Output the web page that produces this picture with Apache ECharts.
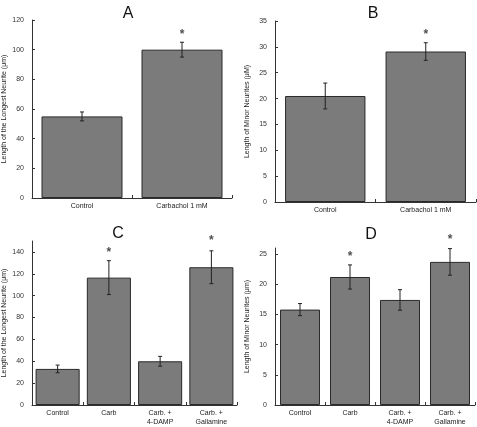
<!DOCTYPE html>
<html><head><meta charset="utf-8">
<script src="https://cdn.jsdelivr.net/npm/echarts@6/dist/echarts.min.js"></script>
<style>html,body{margin:0;padding:0;background:#fff}#c{width:477px;height:427px}</style>
</head><body><div id="c"></div>
<script>
// ---- data ----
const catsAB = ['Control', 'Carbachol 1 mM'];
const catsCD = ['Control', 'Carb', 'Carb. +\n4-DAMP', 'Carb. +\nGallamine'];
const valA = [55, 100];
const errA = [3, 5];
const starA = [null, 112];
const valB = [20.5, 29.1];
const errB = [2.5, 1.7];
const starB = [null, 33];
const valC = [33, 116.5, 40, 126];
const errC = [3.5, 15.5, 4.5, 15];
const starC = [null, 142.5, null, 153];
const valD = [15.8, 21.2, 17.4, 23.7];
const errD = [1, 2, 1.7, 2.2];
const starD = [null, 25, null, 27.9];
const ticksA = [0, 20, 40, 60, 80, 100, 120];
const ticksB = [0, 5, 10, 15, 20, 25, 30, 35];
const ticksC = [0, 20, 40, 60, 80, 100, 120, 140];
const ticksD = [0, 5, 10, 15, 20, 25];
const titles = ['A', 'B', 'C', 'D'];
const yNames = ['Length of the Longest Neurite (μm)', 'Length of Minor Neurites (μM)',
                'Length of the Longest Neurite (μm)', 'Length of Minor Neurites (μm)'];

const FONT = 'Liberation Sans';
const panels = [
  {cats: catsAB, val: valA, err: errA, star: starA, ticks: ticksA, max: 120, grid: {left: 30, top: 20, width: 202, height: 178}, bw: '81%', title: [123, 1]},
  {cats: catsAB, val: valB, err: errB, star: starB, ticks: ticksB, max: 35, grid: {left: 275, top: 21, width: 201, height: 181}, bw: '80%', title: [368, 1]},
  {cats: catsCD, val: valC, err: errC, star: starC, ticks: ticksC, max: 150, grid: {left: 32, top: 241, width: 205, height: 170}, bw: '86%', title: [113, 221]},
  {cats: catsCD, val: valD, err: errD, star: starD, ticks: ticksD, max: 26, grid: {left: 275, top: 248, width: 200, height: 163}, bw: '80%', title: [366, 222]}
];

const option = {animation: false, backgroundColor: '#fff', title: [], grid: [], xAxis: [], yAxis: [], series: []};
panels.forEach((p, i) => {
  option.title.push({text: titles[i], left: p.title[0], top: p.title[1], textAlign: 'center',
    textStyle: {fontFamily: FONT, fontSize: 16, fontWeight: 'normal', color: '#111'}});
  option.grid.push(Object.assign({containLabel: false}, p.grid));
  option.xAxis.push({type: 'category', gridIndex: i, data: p.cats,
    axisLine: {lineStyle: {color: '#333', width: 1}},
    axisTick: {show: true, inside: true, length: 3, lineStyle: {color: '#333'}},
    axisLabel: {fontFamily: FONT, fontSize: 7, color: '#222', margin: 4, lineHeight: 9, interval: 0}});
  option.yAxis.push({type: 'value', gridIndex: i, min: 0, max: p.max,
    name: yNames[i], nameLocation: 'middle', nameGap: 24, nameRotate: 90,
    nameTextStyle: {fontFamily: FONT, fontSize: 7, color: '#222'},
    splitLine: {show: false},
    axisLine: {show: true, lineStyle: {color: '#333', width: 1}},
    axisTick: {show: true, inside: true, length: 3, customValues: p.ticks, lineStyle: {color: '#333'}},
    axisLabel: {fontFamily: FONT, fontSize: 7, color: '#333', margin: 8, customValues: p.ticks}});
  option.series.push({type: 'bar', xAxisIndex: i, yAxisIndex: i, data: p.val, barWidth: p.bw,
    itemStyle: {color: '#7b7b7b', borderColor: '#2a2a2a', borderWidth: 1}});
  option.series.push({type: 'custom', xAxisIndex: i, yAxisIndex: i, clip: false,
    data: p.val.map((v, k) => [k, v - p.err[k], v + p.err[k]]),
    renderItem: function (params, api) {
      const lo = api.coord([api.value(0), api.value(1)]);
      const hi = api.coord([api.value(0), api.value(2)]);
      const w = 2;
      const st = {stroke: '#222', lineWidth: 1};
      return {type: 'group', children: [
        {type: 'line', shape: {x1: lo[0], y1: lo[1], x2: hi[0], y2: hi[1]}, style: st},
        {type: 'line', shape: {x1: lo[0] - w, y1: lo[1], x2: lo[0] + w, y2: lo[1]}, style: st},
        {type: 'line', shape: {x1: hi[0] - w, y1: hi[1], x2: hi[0] + w, y2: hi[1]}, style: st}
      ]};
    }, z: 5});
  option.series.push({type: 'scatter', xAxisIndex: i, yAxisIndex: i, symbolSize: 0, clip: false,
    data: p.star.map((v, k) => v == null ? null : [k, v]),
    label: {show: true, position: 'inside', formatter: '*', fontFamily: FONT, fontSize: 12, fontWeight: 'bold', color: '#222', offset: [0, 3]}});
});
const chart = echarts.init(document.getElementById('c'), null, {renderer: 'canvas'});
chart.setOption(option);
</script></body></html>
